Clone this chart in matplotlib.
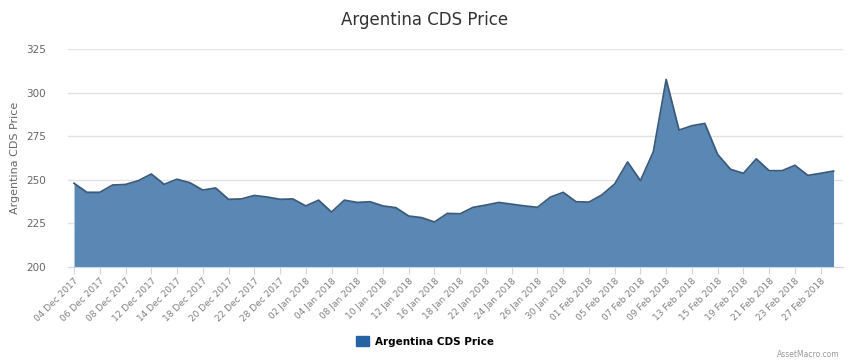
import numpy as np
import matplotlib.pyplot as plt
from matplotlib.patches import Patch

# trading days, 04 Dec 2017 - 28 Feb 2018
dates = ['04 Dec 2017', '05 Dec 2017', '06 Dec 2017', '07 Dec 2017', '08 Dec 2017', '11 Dec 2017',
         '12 Dec 2017', '13 Dec 2017', '14 Dec 2017', '15 Dec 2017', '18 Dec 2017', '19 Dec 2017',
         '20 Dec 2017', '21 Dec 2017', '22 Dec 2017', '27 Dec 2017', '28 Dec 2017', '29 Dec 2017',
         '02 Jan 2018', '03 Jan 2018', '04 Jan 2018', '05 Jan 2018', '08 Jan 2018', '09 Jan 2018',
         '10 Jan 2018', '11 Jan 2018', '12 Jan 2018', '15 Jan 2018', '16 Jan 2018', '17 Jan 2018',
         '18 Jan 2018', '19 Jan 2018', '22 Jan 2018', '23 Jan 2018', '24 Jan 2018', '25 Jan 2018',
         '26 Jan 2018', '29 Jan 2018', '30 Jan 2018', '31 Jan 2018', '01 Feb 2018', '02 Feb 2018',
         '05 Feb 2018', '06 Feb 2018', '07 Feb 2018', '08 Feb 2018', '09 Feb 2018', '12 Feb 2018',
         '13 Feb 2018', '14 Feb 2018', '15 Feb 2018', '16 Feb 2018', '19 Feb 2018', '20 Feb 2018',
         '21 Feb 2018', '22 Feb 2018', '23 Feb 2018', '26 Feb 2018', '27 Feb 2018', '28 Feb 2018']

cds_price = [248.0, 242.8, 242.8, 247.0, 247.3, 249.5, 253.3, 247.4, 250.3, 248.3,
             244.1, 245.3, 238.8, 239.0, 241.0, 240.1, 238.8, 239.0, 235.0, 238.3,
             231.5, 238.3, 237.0, 237.4, 235.0, 234.0, 229.2, 228.3, 225.8, 230.7,
             230.5, 234.2, 235.5, 237.0, 236.0, 235.0, 234.2, 240.0, 242.8, 237.4,
             237.2, 241.3, 247.6, 260.2, 249.5, 266.0, 307.5, 278.5, 281.0, 282.3,
             264.5, 256.0, 253.7, 262.0, 255.2, 255.2, 258.3, 252.5, 253.7, 255.0]

yticks = [200, 225, 250, 275, 300, 325]

x = np.arange(len(dates))

fig = plt.figure(figsize=(8.5, 3.63), dpi=100)
ax = fig.add_axes([0.08, 0.2645, 0.912, 0.6005])

ax.fill_between(x, 200, cds_price, color='#5a87b4', linewidth=0, zorder=2)
ax.plot(x, cds_price, color='#3a5b7c', linewidth=1.3, zorder=3)

ax.set_xlim(-0.47, 59.75)
ax.set_ylim(200, 325)
ax.set_yticks(yticks)
ax.set_yticklabels([str(v) for v in yticks], fontsize=7.5, color='#666666')
ax.yaxis.grid(True, color='#e3e3e3', linewidth=1, zorder=0)
ax.tick_params(axis='y', length=0, pad=16)

ax.set_xticks(x[::2])
ax.set_xticklabels(dates[::2], rotation=45, ha='right', rotation_mode='anchor',
                   fontsize=6.5, color='#808080')
ax.tick_params(axis='x', length=5, color='#ccd6eb', pad=2)

for side in ['top', 'right', 'left']:
    ax.spines[side].set_visible(False)
ax.spines['bottom'].set_color('#ccd6eb')

ax.set_ylabel('Argentina CDS Price', fontsize=8, color='#666666', labelpad=4)

fig.text(0.5, 0.945, 'Argentina CDS Price', ha='center', va='center',
         fontsize=12, color='#333333')

handle = Patch(facecolor='#2563a5', edgecolor='#2563a5')
fig.legend([handle], ['Argentina CDS Price'], loc='center', bbox_to_anchor=(0.5, 0.06),
           frameon=False, prop={'weight': 'bold', 'size': 7.5}, handlelength=1.2,
           handleheight=1.2, handletextpad=0.6)

fig.text(0.988, 0.012, 'AssetMacro.com', ha='right', va='bottom', fontsize=5.5, color='#999999')

fig.savefig('out.png', dpi=100, facecolor='white')
